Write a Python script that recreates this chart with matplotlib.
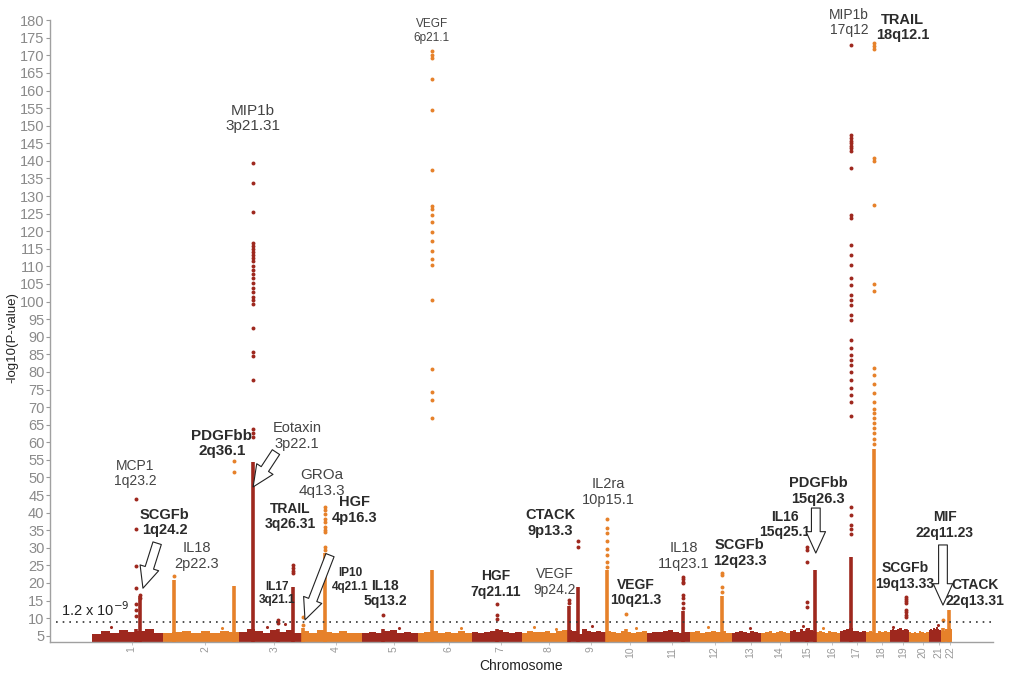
import matplotlib.pyplot as plt

# marker span of each autosome, Mb
chrom_len = [230, 246, 204, 194, 181, 175, 162, 149, 123, 133, 139, 136,
             97, 91, 87, 75, 84, 78, 62, 65, 39, 36]
chrom_names = [str(i) for i in range(1, 23)]

# top of the dense sub-threshold band, read at even steps along each chromosome
band_tops = [
    [5.6, 6.3, 5.9, 6.6, 6.0, 6.2, 7.0, 5.8],
    [5.8, 6.1, 6.4, 5.7, 6.2, 5.9, 6.3, 6.0],
    [6.0, 6.8, 6.2, 5.9, 6.5, 6.1, 6.6, 5.8],
    [6.3, 5.9, 6.6, 6.0, 5.8, 6.2, 5.9, 5.7],
    [5.7, 6.1, 5.9, 6.4, 6.6, 5.8, 6.0, 5.7],
    [5.8, 6.0, 6.2, 5.9, 6.1, 5.8, 6.3, 5.9],
    [6.1, 5.8, 6.0, 6.2, 6.7, 6.0, 5.8, 6.0],
    [5.9, 6.3, 6.1, 6.0, 6.4, 5.8, 6.2, 6.6],
    [6.7, 6.2, 5.6, 6.8, 6.3, 6.0, 6.4, 6.1],
    [6.2, 6.0, 5.9, 6.3, 6.1, 5.8, 6.0, 6.2],
    [5.8, 6.1, 6.0, 6.3, 6.6, 6.1, 5.9, 6.0],
    [6.0, 6.2, 5.9, 6.1, 6.4, 6.0, 6.2, 5.8],
    [5.7, 6.0, 6.3, 6.1, 5.9, 6.2, 6.0, 5.8],
    [5.8, 6.0, 6.2, 5.9, 6.1, 6.3, 6.0, 5.9],
    [6.2, 6.6, 6.0, 6.9, 6.3, 7.1, 6.5, 6.2],
    [6.0, 6.3, 6.1, 5.9, 6.2, 6.0, 6.1, 5.9],
    [6.2, 6.5, 6.9, 7.2, 6.4, 6.2, 6.0, 6.3],
    [6.0, 6.2, 6.1, 5.9, 6.3, 6.0, 6.4, 6.1],
    [6.6, 7.0, 6.7, 6.9, 7.1, 6.6, 6.8, 6.5],
    [6.0, 5.8, 6.1, 5.9, 6.2, 6.0, 5.9, 6.1],
    [6.6, 6.9, 6.5, 7.2, 6.8, 7.4, 6.9, 6.6],
    [6.3, 6.6, 6.4, 6.8, 7.0, 6.6, 7.3, 6.8],
]

# associated loci: chromosome, position (Mb), top of the dense run, separate markers
locus_chrom = [1, 1, 2, 2, 3, 3, 3, 4, 4, 5, 6, 7, 9, 9, 10, 10, 11, 12,
               15, 15, 17, 18, 19, 22, 22]
locus_pos = [141.6, 154.0, 36.6, 230.0, 47.0, 126.0, 175.0, 5.0, 74.5, 68.0,
             47.0, 83.0, 3.0, 34.0, 3.2, 65.0, 117.0, 106.0, 58.0, 83.0,
             37.0, 29.0, 54.0, 5.5, 26.0]
locus_dense = [7.0, 16.2, 20.9, 19.2, 54.5, 7.0, 18.8, 7.2, 28.4, 7.0,
               23.8, 7.0, 13.4, 18.9, 23.6, 7.0, 12.0, 16.2,
               7.0, 23.7, 27.5, 58.0, 7.0, 7.2, 12.3]
locus_points = [
    [43.9, 35.3, 24.9, 18.5, 14.0, 12.2, 10.5],
    [16.6, 15.7],
    [22.0],
    [54.8, 51.6],
    [139.4, 133.7, 125.5, 116.7, 115.9, 115.0, 114.1, 113.2, 112.3, 111.4,
     110.2, 109.1, 107.9, 106.6, 105.3, 104.0, 102.6, 101.4, 100.4, 99.2,
     92.5, 85.6, 84.4, 77.7, 63.8, 62.6, 61.6],
    [9.6, 8.6],
    [25.0, 24.2, 23.4, 22.8],
    [10.3, 8.1],
    [41.6, 40.6, 39.7, 38.3, 37.4, 36.0, 35.0, 34.5, 30.2, 29.3],
    [10.8],
    [171.3, 170.2, 169.3, 163.2, 154.6, 137.5, 127.3, 126.2, 124.7, 122.6,
     119.7, 117.2, 114.3, 112.2, 110.4, 100.5, 80.7, 74.2, 71.9, 66.8],
    [14.0, 10.9, 9.7],
    [15.1, 14.3],
    [31.9, 30.1],
    [38.2, 35.7, 34.2, 32.0, 29.6, 28.0, 26.0, 24.6],
    [11.2],
    [21.7, 21.1, 20.4, 20.0, 16.5, 15.6, 14.2, 13.0],
    [22.9, 22.2, 18.9, 17.5],
    [30.3, 29.4, 26.0, 14.7, 13.2],
    [],
    [173.0, 147.3, 146.5, 145.8, 145.0, 144.3, 143.6, 142.8, 138.0, 124.6,
     123.8, 116.0, 113.2, 110.3, 106.7, 104.8, 102.0, 100.5, 99.0, 96.2,
     94.8, 89.0, 86.8, 84.8, 83.3, 81.9, 79.9, 77.7, 75.4, 73.4, 71.5, 67.5,
     41.7, 39.3, 36.5, 35.3, 34.0],
    [173.6, 172.7, 171.8, 140.9, 140.0, 127.5, 105.1, 103.0, 81.0, 79.0,
     76.5, 74.0, 71.5, 69.5, 68.2, 67.0, 65.5, 64.0, 62.5, 61.0, 59.5],
    [16.0, 15.4, 14.8, 14.3, 12.3, 11.6, 11.0, 10.4],
    [9.5],
    [],
]

# loose sub-threshold markers above the band
minor_chrom = [1, 2, 3, 3, 5, 6, 8, 8, 9, 10, 12, 13, 15, 16, 19, 21]
minor_pos = [60.0, 190.0, 90.0, 150.0, 120.0, 140.0, 40.0, 110.0, 80.0, 100.0,
             60.0, 60.0, 45.0, 20.0, 10.0, 30.0]
minor_vals = [7.4, 7.1, 7.6, 8.2, 7.3, 7.2, 7.5, 7.0, 7.8, 7.3, 7.6, 7.1,
              7.9, 7.2, 7.4, 8.0]

threshold = 8.92  # -log10(1.2e-9)

# annotations: text, x (cumulative Mb), y (-log10 p), bold, size
label_text = ["MCP1\n1q23.2", "SCGFb\n1q24.2", "IL18\n2p22.3", "PDGFbb\n2q36.1",
              "MIP1b\n3p21.31", "Eotaxin\n3p22.1", "GROa\n4q13.3", "TRAIL\n3q26.31",
              "HGF\n4p16.3", "IL17\n3q21.1", "IP10\n4q21.1", "IL18\n5q13.2",
              "VEGF\n6p21.1", "HGF\n7q21.11", "VEGF\n9p24.2", "CTACK\n9p13.3",
              "IL2ra\n10p15.1", "VEGF\n10q21.3", "IL18\n11q23.1", "SCGFb\n12q23.3",
              "IL16\n15q25.1", "PDGFbb\n15q26.3", "MIP1b\n17q12", "TRAIL\n18q12.1",
              "SCGFb\n19q13.33", "MIF\n22q11.23", "CTACK\n22q13.31"]
label_x = [139, 236, 340, 421, 522, 664, 745, 641, 849, 599, 836, 949, 1101,
           1309, 1500, 1484, 1672, 1762, 1918, 2099, 2245, 2352, 2452, 2627,
           2634, 2763, 2860]
label_y = [51.1, 37.2, 27.7, 59.6, 152.1, 61.8, 48.4, 38.9, 40.7, 17.0, 20.8,
           17.0, 176.9, 19.7, 20.3, 37.0, 45.9, 17.3, 27.7, 28.5, 36.6, 46.1,
           179.4, 177.9, 22.0, 36.5, 17.1]
label_bold = [False, True, False, True, False, False, False, True, True, True,
              True, True, False, True, False, True, False, True, False, True,
              True, True, False, True, True, True, True]
label_size = [10, 10.5, 10.5, 11, 11, 10.5, 11, 10, 10.5, 8.5, 8.5, 10, 8.5,
              10, 10, 10.5, 10.5, 10, 10.5, 10.5, 10, 10.5, 10, 10.5, 10, 10, 10]

# hollow arrows: tail (x, y) -> head (x, y)
arrow_tail = [(211, 31.3), (596, 57.2), (771, 27.9), (2345, 41.3), (2757, 30.8)]
arrow_head = [(165, 18.5), (522, 47.3), (690, 9.5), (2345, 28.5), (2757, 13.7)]

dark_red = "#9e281e"
orange = "#e6812a"

plt.rcParams["font.family"] = ["Liberation Sans", "DejaVu Sans"]

fig = plt.figure(figsize=(10.15, 6.74), dpi=100)
ax = fig.add_axes([0.0493, 0.0479, 0.9290, 0.9221])

starts = []
acc = 0.0
for n in chrom_len:
    starts.append(acc)
    acc += n
y_floor = 3.29


def chrom_color(c):
    return dark_red if c % 2 == 1 else orange


# background band
for i, (s, n) in enumerate(zip(starts, chrom_len)):
    tops = band_tops[i]
    step = n / len(tops)
    xs = [s + k * step for k in range(len(tops))] + [s + n]
    ys = tops + [tops[-1]]
    ax.fill_between(xs, y_floor, ys, step="post", color=chrom_color(i + 1),
                    lw=0, zorder=2)

# loose markers
for c, p, v in zip(minor_chrom, minor_pos, minor_vals):
    ax.scatter(starts[c - 1] + p, v, s=5, color=chrom_color(c), lw=0, zorder=3)

# loci columns
for c, p, top, pts in zip(locus_chrom, locus_pos, locus_dense, locus_points):
    x = starts[c - 1] + p
    col = chrom_color(c)
    ax.vlines(x, y_floor, top, color=col, lw=2.6, zorder=3)
    if pts:
        ax.scatter([x] * len(pts), pts, s=8, color=col, lw=0, zorder=4)

# genome-wide threshold
ax.axhline(threshold, xmin=0.006, xmax=1.0, color="#333333", lw=1.2,
           linestyle=(0, (1, 3)), zorder=5)
ax.text(-100, threshold + 0.7, "1.2 x 10$^{-9}$", fontsize=10.5,
        color="#222222", va="bottom", ha="left")

for t, x, y, b, fs in zip(label_text, label_x, label_y, label_bold, label_size):
    ax.text(x, y, t, ha="center", va="center", fontsize=fs, linespacing=1.15,
            fontweight="bold" if b else "normal",
            color="#2b2b2b" if b else "#444444", clip_on=False, zorder=6)

for tail, head in zip(arrow_tail, arrow_head):
    ax.annotate("", xy=head, xytext=tail, zorder=7,
                arrowprops=dict(arrowstyle="simple,head_length=1.1,head_width=1.0,tail_width=0.45",
                                fc="white", ec="#222222", lw=0.8,
                                mutation_scale=14, shrinkA=0, shrinkB=0))

ax.set_xlim(-136, 2919)
ax.set_ylim(y_floor, 180)

# chromosome labels sit a little right of each span's centre
mids = [s + n / 2 + 13 for s, n in zip(starts, chrom_len)]
ax.set_xticks(mids)
ax.set_xticklabels(chrom_names, rotation=90, fontsize=7.5, color="#999999")
ax.set_yticks(range(5, 181, 5))
ax.tick_params(axis="y", labelsize=10.5, labelcolor="#8a8a8a", color="#999999",
               length=3, width=0.8, pad=1)
ax.tick_params(axis="x", color="#bbbbbb", length=2, width=0.6, pad=1.5)

for side in ["top", "right"]:
    ax.spines[side].set_visible(False)
for side in ["left", "bottom"]:
    ax.spines[side].set_color("#a0a0a0")
    ax.spines[side].set_linewidth(1.0)

ax.set_xlabel("Chromosome", fontsize=10, color="#222222", va="center")
ax.xaxis.set_label_coords(0.5, -0.039)
ax.set_ylabel("-log10(P-value)", fontsize=9.5, color="#222222", va="center")
ax.yaxis.set_label_coords(-0.040, 0.489)

fig.savefig("out.png", dpi=100)
